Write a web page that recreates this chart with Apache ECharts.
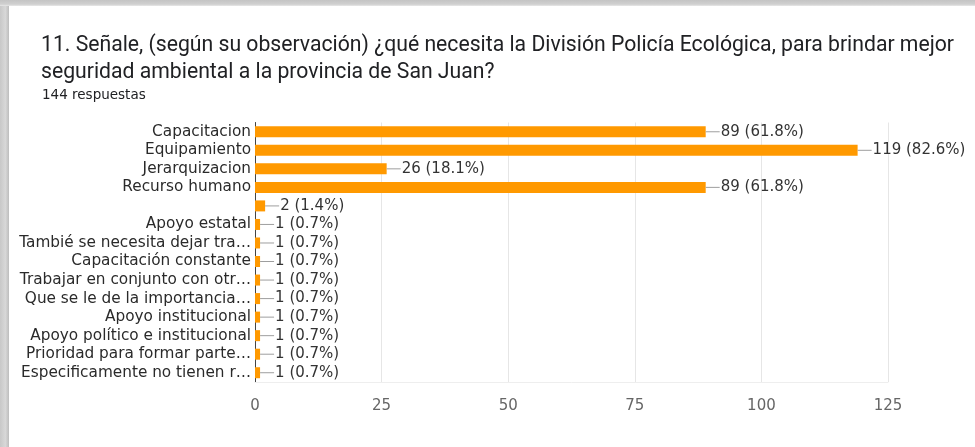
<!DOCTYPE html>
<html>
<head>
<meta charset="utf-8">
<script src="https://cdn.jsdelivr.net/npm/echarts@6/dist/echarts.min.js"></script>
<style>
html,body{margin:0;padding:0;background:#fff;}
#wrap{position:relative;width:975px;height:447px;overflow:hidden;background:#fff;}
#left{position:absolute;left:0;top:0;width:9px;height:447px;background:linear-gradient(to right,#c8c8c8,#d8d8d8 60%,#bdbdbd);}
#top{position:absolute;left:0;top:0;width:975px;height:6px;background:linear-gradient(to bottom,#c4c4c4,#d0d0d0 70%,#e8e8e8);}
#chart{position:absolute;left:0;top:0;width:975px;height:447px;}
</style>
</head>
<body>
<div id="wrap">
<div id="chart"></div>
<div id="left"></div>
<div id="top"></div>
</div>
<script>
const titleLine1 = "11. Señale, (según su observación) ¿qué necesita la División Policía Ecológica, para brindar mejor";
const titleLine2 = "seguridad ambiental a la provincia de San Juan?";
const subtitle = "144 respuestas";
const totalResponses = 144;
const categories = [
  "Capacitacion",
  "Equipamiento",
  "Jerarquizacion",
  "Recurso humano",
  "",
  "Apoyo estatal",
  "Tambié se necesita dejar tra…",
  "Capacitación constante",
  "Trabajar en conjunto con otr…",
  "Que se le de la importancia…",
  "Apoyo institucional",
  "Apoyo político e institucional",
  "Prioridad para formar parte…",
  "Especificamente no tienen r…"
];
const counts = [89, 119, 26, 89, 2, 1, 1, 1, 1, 1, 1, 1, 1, 1];
const xTicks = [0, 25, 50, 75, 100, 125];

const chart = echarts.init(document.getElementById('chart'), null, {renderer: 'canvas'});
chart.setOption({
  animation: false,
  backgroundColor: '#fff',
  title: [
    {text: titleLine1 + '\n' + titleLine2, left: 36, top: 27,
     textStyle: {fontFamily: 'Roboto', fontSize: 21.2, fontWeight: 'normal', color: '#202124', lineHeight: 27}},
    {text: subtitle, left: 37, top: 83,
     textStyle: {fontFamily: 'DejaVu Sans', fontSize: 13.5, fontWeight: 'normal', color: '#202124', lineHeight: 14}}
  ],
  grid: {left: 255, right: 87, top: 122.5, bottom: 65, containLabel: false},
  xAxis: {
    type: 'value', min: xTicks[0], max: xTicks[xTicks.length - 1], interval: 25,
    axisLine: {show: true, lineStyle: {color: '#eeeeee'}},
    axisTick: {show: false},
    splitLine: {show: true, lineStyle: {color: '#e6e6e6', width: 1}},
    axisLabel: {fontFamily: 'DejaVu Sans', fontSize: 15, color: '#666', margin: 17}
  },
  yAxis: {
    type: 'category', data: categories, inverse: true,
    axisLine: {show: true, lineStyle: {color: '#444', width: 1}},
    axisTick: {show: false},
    axisLabel: {interval: 0, hideOverlap: false, fontFamily: 'DejaVu Sans', fontSize: 15.3, color: '#2a2a2a', margin: 4}
  },
  series: [{
    type: 'bar',
    data: counts,
    barWidth: 11,
    itemStyle: {color: '#ff9900'},
    label: {
      show: true, position: 'right', distance: 0,
      formatter: p => '{l| }{t|' + p.value + ' (' + (p.value / totalResponses * 100).toFixed(1) + '%)}',
      rich: {
        l: {width: 14, height: 1, backgroundColor: '#9e9e9e', verticalAlign: 'middle'},
        t: {fontFamily: 'DejaVu Sans', fontSize: 15, color: '#333', padding: [0, 0, 0, 1]}
      }
    }
  }]
});
</script>
</body>
</html>
